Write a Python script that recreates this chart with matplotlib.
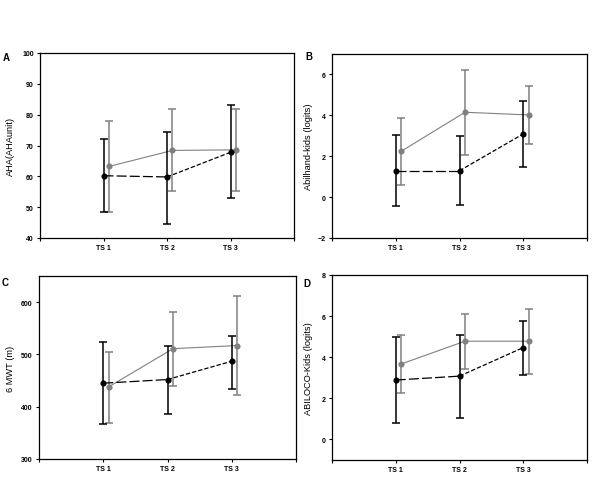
import numpy as np
import matplotlib
matplotlib.use('Agg')
import matplotlib.pyplot as plt

plt.rcParams['font.family'] = ['Liberation Sans', 'DejaVu Sans']

# time points
ts_labels = ['TS 1', 'TS 2', 'TS 3']
ts_pos = [1, 2, 3]

# panel A - AHA
a_black = [60.2, 59.8, 67.8]
a_black_lo = [48.3, 44.6, 52.9]
a_black_hi = [72.2, 74.5, 83.0]
a_grey = [63.2, 68.4, 68.6]
a_grey_lo = [48.5, 55.2, 55.3]
a_grey_hi = [77.9, 81.7, 82.0]

# panel B - Abilhand-kids
b_black = [1.29, 1.29, 3.09]
b_black_lo = [-0.42, -0.38, 1.47]
b_black_hi = [3.02, 2.97, 4.69]
b_grey = [2.24, 4.15, 4.02]
b_grey_lo = [0.59, 2.06, 2.60]
b_grey_hi = [3.86, 6.21, 5.42]

# panel C - 6MWT
c_black = [445, 452, 487]
c_black_lo = [367, 386, 434]
c_black_hi = [524, 516, 536]
c_grey = [438, 511, 517]
c_grey_lo = [369, 440, 423]
c_grey_hi = [505, 582, 612]

# panel D - ABILOCO-Kids
d_black = [2.89, 3.08, 4.47]
d_black_lo = [0.78, 1.06, 3.15]
d_black_hi = [4.98, 5.06, 5.76]
d_grey = [3.67, 4.78, 4.78]
d_grey_lo = [2.24, 3.43, 3.16]
d_grey_hi = [5.06, 6.11, 6.36]

W, H = 609, 485
fig = plt.figure(figsize=(W / 100, H / 100), dpi=100)


def px_axes(l, t, r, b):
    return fig.add_axes([l / W, 1 - b / H, (r - l) / W, (b - t) / H])


def panel(ax, black, blo, bhi, grey, glo, ghi, ylim, yticks, ylabel, labx):
    off = 0.085
    gx = [p + off for p in ts_pos]
    grey_c = '#808080'
    # grey series, solid
    ax.errorbar(gx, grey, yerr=[np.subtract(grey, glo), np.subtract(ghi, grey)],
                fmt='none', ecolor=grey_c, elinewidth=1.1, capsize=2.8, capthick=1.1, zorder=2)
    ax.plot(gx, grey, '-', color=grey_c, lw=0.8, marker='o', ms=3.4, mec=grey_c, mfc=grey_c, zorder=3)
    # black series, long dash then short dash
    ax.errorbar(ts_pos, black, yerr=[np.subtract(black, blo), np.subtract(bhi, black)],
                fmt='none', ecolor='black', elinewidth=1.1, capsize=2.8, capthick=1.1, zorder=4)
    ax.plot(ts_pos[:2], black[:2], color='black', lw=0.9, dashes=(8, 2.5), zorder=5)
    ax.plot(ts_pos[1:], black[1:], color='black', lw=0.9, dashes=(3.5, 1.6), zorder=5)
    ax.plot(ts_pos, black, 'o', color='black', ms=3.4, zorder=6)

    ax.set_xlim(0, 4)
    ax.set_ylim(*ylim)
    ax.set_xticks([0, 1, 2, 3, 4])
    ax.set_xticklabels([''] + ts_labels + [''])
    ax.set_yticks(yticks)
    ax.tick_params(axis='both', direction='out', length=2.5, width=0.8, labelsize=5, pad=2)
    ax.tick_params(top=False, right=False)
    for t in ax.get_xticklabels() + ax.get_yticklabels():
        t.set_fontweight('bold')
    for s in ax.spines.values():
        s.set_linewidth(0.9)
    ax.set_ylabel(ylabel, fontsize=6.7)
    ax.yaxis.set_label_coords(labx, 0.5)


axA = px_axes(40, 54, 294, 239)
panel(axA, a_black, a_black_lo, a_black_hi, a_grey, a_grey_lo, a_grey_hi,
      (40, 100), [40, 50, 60, 70, 80, 90, 100], 'AHA(AHAunit)', -0.10)

axB = px_axes(332, 55, 587, 239)
panel(axB, b_black, b_black_lo, b_black_hi, b_grey, b_grey_lo, b_grey_hi,
      (-2, 7), [-2, 0, 2, 4, 6], 'Abilhand-kids (logits)', -0.073)

axC = px_axes(39, 277, 296, 460)
panel(axC, c_black, c_black_lo, c_black_hi, c_grey, c_grey_lo, c_grey_hi,
      (300, 650), [300, 400, 500, 600], '6 MWT (m)', -0.095)

axD = px_axes(332, 276, 587, 461)
panel(axD, d_black, d_black_lo, d_black_hi, d_grey, d_grey_lo, d_grey_hi,
      (-1, 8), [0, 2, 4, 6, 8], 'ABILOCO-Kids (logits)', -0.076)

for lab, x, y in [('A', 6, 58), ('B', 309, 57), ('C', 5, 283), ('D', 307, 284)]:
    fig.text(x / W, 1 - y / H, lab, fontsize=7, fontweight='bold', ha='center', va='center')

fig.savefig('out.png', dpi=100)
